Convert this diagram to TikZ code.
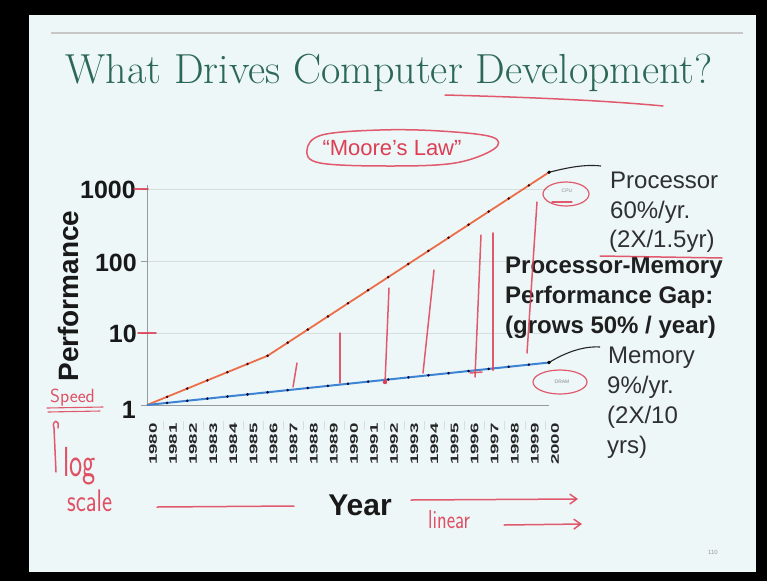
\documentclass[tikz,border=0pt]{standalone}
\usepackage{fontspec}
\usepackage{graphicx}
\newfontfamily\arialf{Liberation Sans}
\usetikzlibrary{arrows.meta}
\definecolor{slidebg}{RGB}{237,247,248}
\definecolor{titlegreen}{RGB}{44,104,84}
\definecolor{pen}{RGB}{222,62,84}
\definecolor{cpuc}{RGB}{236,110,72}
\definecolor{memc}{RGB}{62,132,212}
\definecolor{txtgray}{RGB}{48,48,48}
\definecolor{gridc}{RGB}{214,222,224}
\definecolor{axisc}{RGB}{150,155,158}
\tikzset{
  penline/.style={draw=pen, line width=1.5pt, line cap=round, line join=round, opacity=0.85},
  gridline/.style={draw=gridc, line width=0.8pt},
  axisline/.style={draw=axisc, line width=0.9pt},
  cpuline/.style={draw=cpuc, line width=1.8pt, line join=round},
  memline/.style={draw=memc, line width=2pt, line join=round},
  connline/.style={draw=black!85, line width=1.1pt},
  ylab/.style={font=\arialf\bfseries\fontsize{25}{30}\selectfont, text=black!90, anchor=east, inner sep=0},
  yrlab/.style={font=\arialf\bfseries\fontsize{11}{13}\selectfont, text=black!85, rotate=90, anchor=east, inner sep=0},
  sidetxt/.style={font=\arialf\fontsize{24}{29}\selectfont, text=txtgray, anchor=base west, inner sep=0},
  gaptxt/.style={font=\arialf\bfseries\fontsize{24}{29}\selectfont, text=black!88, anchor=base west, inner sep=0},
  hand/.style={text=pen, inner sep=0, opacity=0.9},
  tinylab/.style={font=\arialf\fontsize{5}{6}\selectfont, text=black!45, inner sep=0}
}
\begin{document}
\begin{tikzpicture}[x=1pt,y=-1pt]
\useasboundingbox (0,0) rectangle (767,581);
\fill[black] (0,0) rectangle (767,581);
\fill[slidebg] (29,15) rectangle (756,572);
% rule and title
\draw[draw=black!22, line width=1.4pt] (51,33) -- (743,33);
\node[font=\fontsize{42}{48}\selectfont, text=titlegreen, anchor=base east, inner sep=0] (title) at (713,83) {What Drives Computer Development?};
\draw[penline] (445,95) .. controls (520,97) and (600,100) .. (663,106);
% Moore's law
\node[font=\arialf\fontsize{22}{26}\selectfont, text=pen, anchor=base, inner sep=0] (moore) at (392,155) {“Moore’s Law”};
\draw[penline] plot[smooth cycle, tension=0.6] coordinates {(492,137) (440,131) (380,130) (322,135) (307,150) (320,163) (390,166) (455,163) (494,149)};
% grid and axes
\foreach \yy in {189,261,333} \draw[gridline] (147,\yy) -- (549,\yy);
\draw[axisline] (147,185) -- (147,405) -- (549,405);
\foreach \yy in {189,261,333,405} \draw[axisline] (141,\yy) -- (147,\yy);
\foreach \i in {1,...,20} \draw[gridline] ({143+20.1*\i},421) -- ({143+20.1*\i},430);
% y labels
\node[ylab] (y1000) at (136,190) {1000};
\node[ylab] (y100) at (137,263) {100};
\node[ylab] (y10) at (137,334) {10};
\node[ylab] (y1) at (136,410) {1};
\node[font=\arialf\bfseries\fontsize{28}{32}\selectfont, text=black!90, rotate=90, anchor=base, inner sep=0] (perf) at (78,296) {Performance};
% year labels
\foreach \i in {0,...,20}{
  \pgfmathtruncatemacro\yr{1980+\i}
  \node[yrlab] (yr\i) at ({153+20.1*\i},423) {\scalebox{1.7}[1]{\yr}};
}
\node[font=\arialf\bfseries\fontsize{30}{34}\selectfont, text=black!90, anchor=base, inner sep=0] (year) at (360,515) {Year};
% data
\foreach \i in {0,...,20}{
  \pgfmathsetmacro\cl{\i<7 ? 0.114*\i : 0.684+0.182*(\i-6)}
  \coordinate (c\i) at ({147+20.1*\i},{405-72*\cl});
  \coordinate (m\i) at ({147+20.1*\i},{405-72*0.0295*\i});
}
\draw[cpuline] (c0) \foreach \i in {1,...,20}{ -- (c\i)};
\draw[memline] (m0) \foreach \i in {1,...,20}{ -- (m\i)};
\foreach \i in {1,...,19}{
  \fill[black!70!red] (c\i) circle (1.4);
  \fill[black!80!blue] (m\i) circle (1.4);
}
% connectors to side labels
\coordinate (plab) at (601,166);
\coordinate (mlab) at (600,347);
\draw[connline] (c20) .. controls (566,168) and (584,164) .. (plab);
\fill[black] (c20) circle (1.8);
\draw[connline] (m20) .. controls (566,352) and (584,346) .. (mlab);
\fill[black] (m20) circle (1.8);
% side texts
\node[sidetxt] (p1) at (610,188) {Processor};
\node[sidetxt] (p2) at (610,218) {60\%/yr.};
\node[sidetxt] (p3) at (609,247) {(2X/1.5yr)};
\node[gaptxt] (g1) at (505,273) {Processor-Memory};
\node[gaptxt] (g2) at (505,303) {Performance Gap:};
\node[gaptxt] (g3) at (505,333) {(grows 50\% / year)};
\node[sidetxt] (r1) at (608,363) {Memory};
\node[sidetxt] (r2) at (607,393) {9\%/yr.};
\node[sidetxt] (r3) at (607,423) {(2X/10};
\node[sidetxt] (r4) at (607,453) {yrs)};
% small ovals CPU / DRAM
\node[tinylab] (cpu) at (567,191) {CPU};
\draw[penline, line width=1.2pt] (566,194) ellipse [x radius=23, y radius=12];
\draw[penline, line width=1.1pt] (552,202) -- (572,202);
\node[tinylab] (dram) at (562,382) {DRAM};
\draw[penline, line width=1.2pt] (560,382) ellipse [x radius=27, y radius=12];
% red gap strokes
\draw[penline] (293,387) -- (297,363);
\draw[penline] (340,383) -- (340,333);
\draw[penline] (385,383) -- (389,288);
\fill[pen] (385,382) circle (2.2);
\draw[penline] (423,373) -- (434,270);
\draw[penline] (475,377) -- (481,235);
\draw[penline] (470,373) -- (482,372);
\draw[penline, line width=2pt] (493,370) -- (493,233);
\draw[penline] (527,353) -- (537,202);
\draw[penline] (600,256) -- (722,258);
% red ticks at 1000 and 10
\draw[penline] (134,189) -- (148,189);
\draw[penline] (138,333) -- (156,333);
% handwritten notes
\node[hand, font=\sffamily\fontsize{19}{22}\selectfont, anchor=base west] (speed) at (50,402) {Speed};
\draw[penline, line width=1.1pt] (47,408) -- (103,407);
\draw[penline, line width=1.1pt] (48,412) -- (100,411);
\draw[penline] (56,472) -- (54,428) .. controls (51,420) and (60,418) .. (58,428);
\node[hand, anchor=base west] (log) at (63,476) {\scalebox{1}[1.5]{\sffamily\fontsize{28}{30}\selectfont log}};
\node[hand, anchor=base west] (scale) at (67,511) {\scalebox{1}[1.3]{\sffamily\fontsize{24}{28}\selectfont scale}};
\draw[penline] (157,507) -- (294,506);
\draw[penline, -{Straight Barb[length=7pt,width=10pt]}] (411,500) -- (578,499);
\node[hand, anchor=base west] (linear) at (428,528) {\scalebox{1}[1.3]{\sffamily\fontsize{20}{24}\selectfont linear}};
\draw[penline, -{Straight Barb[length=7pt,width=10pt]}] (504,525) -- (582,524);
% page number
\node[font=\arialf\fontsize{6}{7}\selectfont, text=black!40, inner sep=0] (pg) at (713,552) {110};
\end{tikzpicture}
\end{document}
